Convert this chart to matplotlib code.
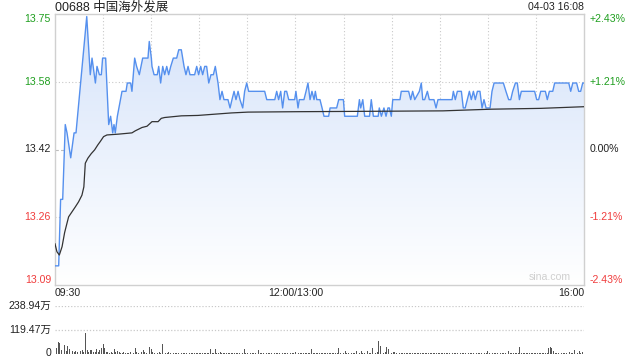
import matplotlib
matplotlib.use("Agg")
import matplotlib.pyplot as plt
import numpy as np
from matplotlib.colors import LinearSegmentedColormap
from matplotlib.patches import Polygon
from matplotlib.transforms import blended_transform_factory

plt.rcParams['font.family'] = ['Liberation Sans', 'Noto Sans CJK SC', 'DejaVu Sans']

title = "00688 中国海外发展"
stamp = "04-03 16:08"
prev_close = 13.42
pct_range = 0.0243
price_labels = ["13.09", "13.26", "13.42", "13.58", "13.75"]
pct_labels = ["-2.43%", "-1.21%", "0.00%", "+1.21%", "+2.43%"]
pct_steps = [-0.0243, -0.0121, 0.0, 0.0121, 0.0243]
x_labels = ["09:30", "12:00/13:00", "16:00"]
x_label_minutes = [0, 150, 330]
vol_labels = ["0", "119.47万", "238.94万"]
vol_max = 238.94

price_minutes = [0, 2.3, 3.5, 4.8, 6.4, 7.5, 9.8, 11.9, 13.1, 19.8, 22, 23.1, 25.2, 26.2, 27.7, 28.9, 29.7,
                 31.6, 33.5, 34.7, 36, 36.8, 37.6, 38.9, 41.8, 44.3, 45.1, 47.2, 48, 49.7, 50.9, 52.6, 54.7,
                 58, 58.8, 60.1, 60.5, 61.8, 63.8, 64.7, 65.9, 67.2, 68.4, 69.7, 70.9, 72.2, 73.8, 75.9,
                 77.2, 78.8, 80.5, 81.7, 83, 84.2, 87.1, 88.4, 89.6, 90.9, 92.1, 93.4, 94.6, 95.9, 97.3,
                 98.8, 100, 101.7, 102.9, 104.2, 105.4, 107.9, 109.2, 110.4, 111.7, 112.9, 114.2, 115.4,
                 117.1, 118.3, 119.6, 120.8, 130.8, 132.1, 137.1, 138.3, 139.5, 140.8, 142, 143.3, 144.5,
                 145.8, 149.5, 150.3, 151.6, 152.4, 155.3, 156.6, 157.8, 159.1, 160.3, 161.6, 162.4, 163.3,
                 165.3, 166.6, 167.8, 170.7, 171.6, 175.7, 177, 179.9, 180.7, 188.6, 189.9, 190.7, 192,
                 193.2, 196.2, 197.3, 198.6, 201.6, 202.3, 203.6, 205.2, 206.5, 207.7, 208.6, 209.8, 210.7,
                 211.9, 215.2, 216, 220.6, 221.9, 223.1, 224.4, 227.3, 228.5, 229.4, 230.6, 232.3, 233.5,
                 236.4, 237.7, 238.9, 242.7, 247.7, 248.5, 249.7, 251, 253.5, 254.7, 255.9, 257.2, 258.5,
                 259.7, 261, 262.2, 263.5, 265.1, 266.4, 267.6, 268.9, 271.4, 272.6, 273.9, 279.7, 281.3,
                 283, 284.3, 285.5, 287.2, 288.4, 289.7, 290.9, 299.2, 300.5, 301.7, 303, 305.9, 307.1,
                 308.4, 310.5, 311.7, 320.5, 321.7, 323, 325.4, 326.7, 327.9, 329.2, 330]
price_values = [13.14, 13.14, 13.30, 13.30, 13.48, 13.46, 13.40, 13.46, 13.46, 13.74, 13.60, 13.64, 13.58,
                13.62, 13.60, 13.60, 13.64, 13.64, 13.48, 13.50, 13.46, 13.48, 13.46, 13.50, 13.56, 13.56,
                13.58, 13.58, 13.56, 13.64, 13.62, 13.60, 13.64, 13.64, 13.68, 13.64, 13.62, 13.60, 13.60,
                13.62, 13.58, 13.62, 13.60, 13.62, 13.60, 13.62, 13.64, 13.64, 13.66, 13.66, 13.62, 13.60,
                13.62, 13.60, 13.60, 13.62, 13.60, 13.62, 13.60, 13.62, 13.62, 13.58, 13.60, 13.60, 13.62,
                13.58, 13.54, 13.56, 13.54, 13.54, 13.52, 13.54, 13.56, 13.54, 13.56, 13.54, 13.52, 13.56,
                13.58, 13.56, 13.56, 13.54, 13.54, 13.56, 13.54, 13.56, 13.52, 13.56, 13.56, 13.54, 13.54,
                13.56, 13.52, 13.54, 13.54, 13.56, 13.58, 13.54, 13.56, 13.54, 13.56, 13.54, 13.54, 13.52,
                13.50, 13.50, 13.52, 13.52, 13.54, 13.54, 13.50, 13.50, 13.54, 13.52, 13.54, 13.50, 13.50,
                13.54, 13.50, 13.50, 13.52, 13.50, 13.52, 13.50, 13.52, 13.52, 13.50, 13.54, 13.54, 13.54,
                13.56, 13.56, 13.54, 13.56, 13.54, 13.56, 13.58, 13.54, 13.54, 13.56, 13.54, 13.54, 13.52,
                13.54, 13.54, 13.54, 13.56, 13.54, 13.56, 13.56, 13.52, 13.52, 13.54, 13.56, 13.54, 13.56,
                13.54, 13.56, 13.56, 13.52, 13.54, 13.52, 13.52, 13.56, 13.58, 13.58, 13.56, 13.54, 13.54,
                13.56, 13.58, 13.58, 13.54, 13.56, 13.56, 13.54, 13.54, 13.56, 13.56, 13.54, 13.56, 13.56,
                13.58, 13.58, 13.56, 13.58, 13.58, 13.56, 13.56, 13.58, 13.58]

avg_minutes = [0, 1.2, 2.7, 4.4, 6, 7.5, 8.5, 10.6, 12.7, 14.7, 16.8, 18, 18.9, 20.5, 22.6, 24.7, 26.7,
               28.2, 30.3, 32.4, 39.7, 48, 50.1, 54.3, 57.4, 60.5, 64.3, 66.3, 68.4, 78.8, 89.2, 99.6,
               110, 120.4, 151.6, 200, 242, 272, 303, 330]
avg_values = [13.193, 13.174, 13.166, 13.186, 13.22, 13.243, 13.258, 13.27, 13.282, 13.294, 13.31, 13.33,
              13.387, 13.399, 13.41, 13.419, 13.431, 13.439, 13.451, 13.455, 13.457, 13.46, 13.465, 13.473,
              13.476, 13.487, 13.487, 13.495, 13.497, 13.501, 13.502, 13.505, 13.508, 13.51, 13.511,
              13.512, 13.513, 13.517, 13.519, 13.523]

volumes = [83, 30, 56, 51, 20, 31, 43, 15, 38, 21, 18, 13, 10, 13, 10, 15, 13, 18, 8, 103,
           18, 10, 16, 18, 8, 10, 23, 8, 18, 26, 46, 29, 10, 7, 5, 6, 4, 23, 8, 13,
           6, 5, 4, 6, 5, 4, 5, 6, 4, 5, 29, 6, 5, 23, 8, 18, 6, 5, 8, 34,
           23, 6, 5, 4, 5, 6, 4, 47, 13, 5, 4, 6, 5, 13, 4, 5, 3, 4, 5, 3,
           4, 3, 5, 4, 3, 4, 5, 3, 4, 3, 4, 5, 3, 4, 3, 5, 4, 23, 4, 3,
           21, 4, 3, 10, 4, 3, 5, 4, 3, 4, 3, 5, 4, 3, 4, 5, 3, 4, 23, 4,
           3, 4, 5, 3, 4, 3, 4, 18, 5, 3, 4, 3, 5, 4, 3, 4, 3, 5, 4, 3,
           4, 3, 5, 4, 3, 4, 5, 3, 4, 5, 6, 13, 4, 3, 5, 4, 3, 4, 5, 3,
           21, 4, 3, 5, 4, 3, 4, 5, 3, 4, 3, 5, 4, 3, 4, 5, 3, 29, 4, 3,
           5, 13, 4, 3, 10, 4, 5, 3, 13, 4, 5, 13, 4, 3, 5, 13, 4, 5, 26, 4,
           5, 8, 62, 38, 5, 4, 6, 33, 21, 5, 4, 6, 7, 4, 3, 5, 4, 3, 4, 5,
           3, 4, 5, 3, 4, 3, 5, 4, 3, 4, 5, 3, 4, 3, 5, 4, 3, 4, 5, 3,
           4, 3, 5, 4, 3, 4, 5, 3, 4, 3, 4, 5, 33, 4, 3, 5, 4, 3, 4, 5,
           3, 4, 5, 3, 4, 3, 4, 28, 5, 3, 13, 4, 3, 5, 4, 3, 4, 5, 3, 4,
           3, 5, 4, 13, 4, 3, 5, 4, 3, 4, 33, 5, 4, 3, 5, 4, 3, 4, 5, 3,
           4, 3, 5, 4, 3, 4, 5, 3, 26, 33, 29, 13, 5, 4, 3, 5, 4, 3, 4, 5,
           4, 6, 5, 4, 18, 5, 4, 13, 5, 6, 238.94]

GREEN = '#1f9f1f'
RED = '#f03c3c'
BLACK = '#222222'
GRID = '#c9c9c9'
FRAME = '#d0d0d0'
LINE = '#5590ee'

W, H = 640, 360
fig = plt.figure(figsize=(6.4, 3.6), dpi=100)
L, R = 55, 584
top, bot = 14, 285
ax = fig.add_axes([L / W, (H - bot) / H, (R - L) / W, (bot - top) / H])
lo = prev_close * (1 - pct_range)
hi = prev_close * (1 + pct_range)
total_min = 330
ax.set_xlim(0, total_min)
ax.set_ylim(lo, hi)
ax.set_xticks([])
ax.set_yticks([])
for s in ax.spines.values():
    s.set_color(FRAME)
    s.set_linewidth(1.0)

# grid
for m in range(30, total_min, 30):
    ax.axvline(m, color=GRID, lw=0.8, ls=(0, (1, 2)), zorder=0.5)
tick_prices = [prev_close * (1 + p) for p in pct_steps]
for p, tp in zip(pct_steps, tick_prices):
    if p == 0:
        ax.axhline(tp, color='#bdbdbd', lw=0.8, ls=(0, (3, 2)), zorder=0.5)
    elif abs(p) < 0.02:
        ax.axhline(tp, color=GRID, lw=0.8, ls=(0, (1, 2)), zorder=0.5)

# gradient fill under price line
cmap = LinearSegmentedColormap.from_list('g', ['#ffffff', '#d5e3fa'])
grad = np.linspace(0, 1, 256).reshape(-1, 1)
im = ax.imshow(grad, extent=[0, total_min, lo, hi], origin='lower', aspect='auto', cmap=cmap, zorder=1)
verts = list(zip(price_minutes, price_values)) + [(price_minutes[-1], lo), (price_minutes[0], lo)]
patch = Polygon(verts, closed=True, facecolor='none', edgecolor='none', transform=ax.transData)
ax.add_patch(patch)
im.set_clip_path(patch)

ax.plot(price_minutes, price_values, color=LINE, lw=1.0, zorder=3)
ax.plot(avg_minutes, avg_values, color='#333333', lw=0.9, zorder=4)

# y labels
tr_l = blended_transform_factory(fig.transFigure, ax.transData)
for i, (tp, lab, plab, p) in enumerate(zip(tick_prices, price_labels, pct_labels, pct_steps)):
    col = GREEN if p > 0 else (RED if p < 0 else BLACK)
    va = 'center'
    y = tp
    if i == 0:
        va = 'bottom'
    elif i == len(tick_prices) - 1:
        va = 'top'
    ax.text(51 / W, y, lab, transform=tr_l, ha='right', va=va, color=col, fontsize=7.6)
    ax.text(590 / W, y, plab, transform=tr_l, ha='left', va=va, color=col, fontsize=7.6)

# x labels
has = ['left', 'center', 'right']
for m, lab, ha in zip(x_label_minutes, x_labels, has):
    fig.text((L + (R - L) * m / total_min) / W, 1 - 293 / H, lab, ha=ha, va='center', fontsize=7.6, color=BLACK)

# title and stamp
fig.text(L / W, 1 - 7 / H, title, ha='left', va='center', fontsize=9, color=BLACK)
fig.text(R / W, 1 - 7 / H, stamp, ha='right', va='center', fontsize=7.6, color=BLACK)

# watermark
ax.text(0.975, 0.012, "sina.com", transform=ax.transAxes, ha='right', va='bottom', fontsize=7.6, color='#cfcfcf')

# volume panel
vtop, vbot = 306, 353.5
vax = fig.add_axes([L / W, (H - vbot) / H, (R - L) / W, (vbot - vtop) / H])
vax.set_xlim(0, total_min)
vax.set_ylim(0, vol_max)
vax.set_xticks([])
vax.set_yticks([])
for s in vax.spines.values():
    s.set_visible(False)
vax.axhline(vol_max, color=GRID, lw=0.9, ls=(0, (1, 1.5)))
vax.axhline(vol_max / 2, color=GRID, lw=0.9, ls=(0, (1, 1.5)))
vol_minutes = np.arange(len(volumes))
vax.bar(vol_minutes, volumes, width=0.55, color='#555555', linewidth=0, clip_on=False)
vtr = blended_transform_factory(fig.transFigure, vax.transData)
for val, lab in zip([0, vol_max / 2, vol_max], vol_labels):
    vax.text(51 / W, val, lab, transform=vtr, ha='right', va='center', fontsize=7.6, color=BLACK)

fig.savefig('out.png', dpi=100)
